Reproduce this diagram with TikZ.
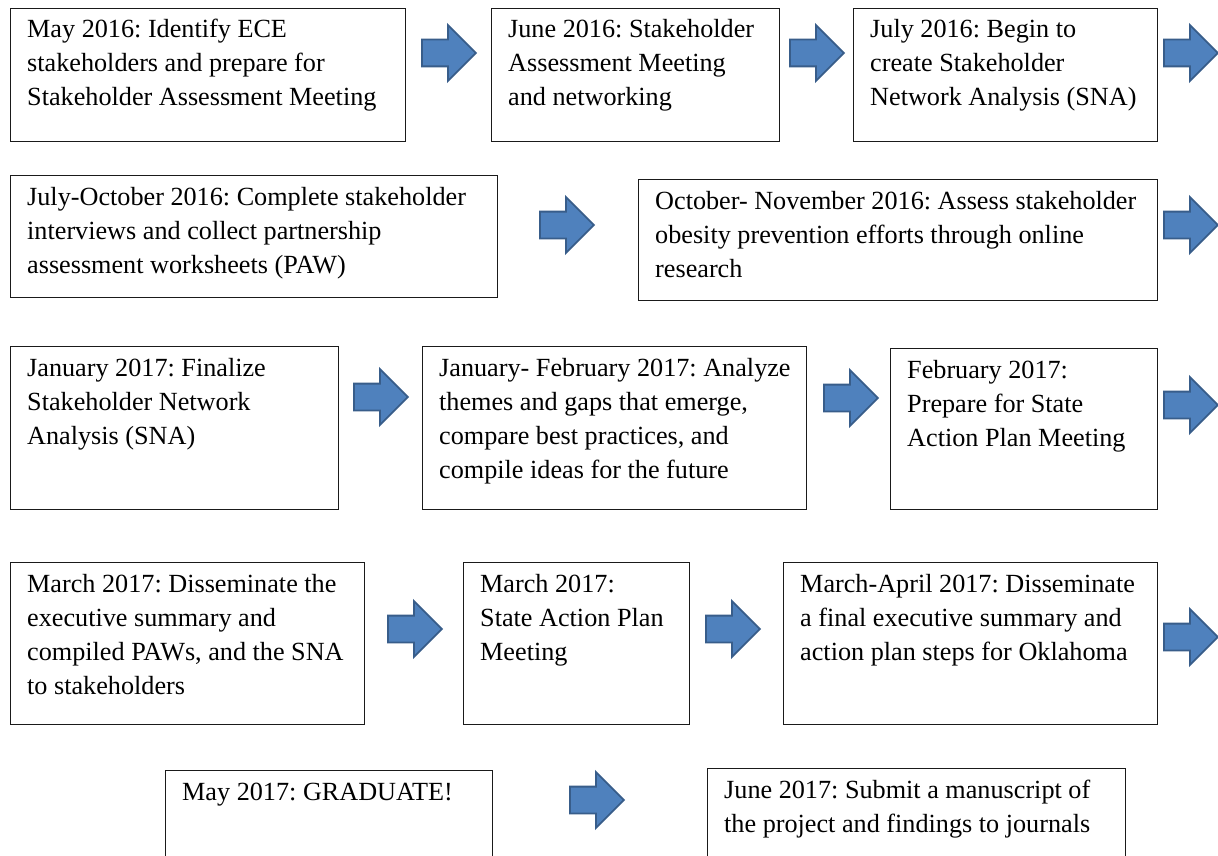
\documentclass[tikz,border=0pt]{standalone}
\usepackage{fontspec}
\setmainfont{Liberation Serif}
\usetikzlibrary{shapes.arrows}
\definecolor{arrfill}{HTML}{4F81BD}
\definecolor{arrdraw}{HTML}{385D8A}
\definecolor{boxline}{HTML}{1A1A1A}
\tikzset{
  stepbox/.style={draw=boxline, line width=1.4pt, rectangle, inner sep=0pt, fill=white},
  steptext/.style={anchor=north west, inner sep=0pt, align=left, font=\fontsize{26.2}{34}\selectfont, text=black},
  blockarrow/.style={single arrow, fill=arrfill, draw=arrdraw, line width=1.8pt,
     minimum height=54pt, inner xsep=0pt, inner ysep=12.5pt, single arrow head extend=14.5pt,
     single arrow head indent=0pt, anchor=west},
}
\newcommand{\stepnode}[6]{%
  \node[stepbox, anchor=north west, minimum width=#4pt-#2pt, minimum height=#5pt-#3pt] (#1) at (#2,#3) {};
  \node[steptext] (#1t) at ([xshift=17pt,yshift=-6pt]#1.north west) {\strut #6};
}
\begin{document}
\frenchspacing
\begin{tikzpicture}[x=1pt,y=-1pt]
\clip (0,0) rectangle (1218,856);
\fill[white] (0,0) rectangle (1218,856);
% row 1
\stepnode{b1}{10}{8}{405}{141}{May 2016: Identify ECE\\stakeholders and prepare for\\Stakeholder Assessment Meeting}
\stepnode{b2}{491}{8}{779}{141}{June 2016: Stakeholder\\Assessment Meeting\\and networking}
\stepnode{b3}{853}{8}{1157}{141}{July 2016: Begin to\\create Stakeholder\\Network Analysis (SNA)}
\node[blockarrow] (a1) at (421,53) {};
\node[blockarrow] (a2) at (789,53) {};
\node[blockarrow] (a3) at (1163,53) {};
% row 2
\stepnode{b4}{10}{175}{497}{297}{July-October 2016: Complete stakeholder\\interviews and collect partnership\\assessment worksheets (PAW)}
\stepnode{b5}{638}{179}{1157}{300}{October- November 2016: Assess stakeholder\\obesity prevention efforts through online\\research}
\node[blockarrow] (a4) at (539,225) {};
\node[blockarrow] (a5) at (1163,225) {};
% row 3
\stepnode{b6}{10}{346}{338}{509}{January 2017: Finalize\\Stakeholder Network\\Analysis (SNA)}
\stepnode{b7}{422}{346}{806}{509}{January- February 2017: Analyze\\themes and gaps that emerge,\\compare best practices, and\\compile ideas for the future}
\stepnode{b8}{890}{348}{1157}{509}{February 2017:\\Prepare for State\\Action Plan Meeting}
\node[blockarrow] (a6) at (353,397) {};
\node[blockarrow] (a7) at (823,398) {};
\node[blockarrow] (a8) at (1163,405) {};
% row 4
\stepnode{b9}{10}{562}{364}{724}{March 2017: Disseminate the\\executive summary and\\compiled PAWs, and the SNA\\to stakeholders}
\stepnode{b10}{463}{562}{689}{724}{March 2017:\\State Action Plan\\Meeting}
\stepnode{b11}{783}{562}{1157}{724}{March-April 2017: Disseminate\\a final executive summary and\\action plan steps for Oklahoma}
\node[blockarrow] (a9) at (387,629) {};
\node[blockarrow] (a10) at (705,629) {};
\node[blockarrow] (a11) at (1163,637) {};
% row 5
\stepnode{b12}{165}{770}{492}{900}{May 2017: GRADUATE!}
\stepnode{b13}{707}{768}{1125}{900}{June 2017: Submit a manuscript of\\the project and findings to journals}
\node[blockarrow] (a12) at (569,800) {};
\end{tikzpicture}
\end{document}
